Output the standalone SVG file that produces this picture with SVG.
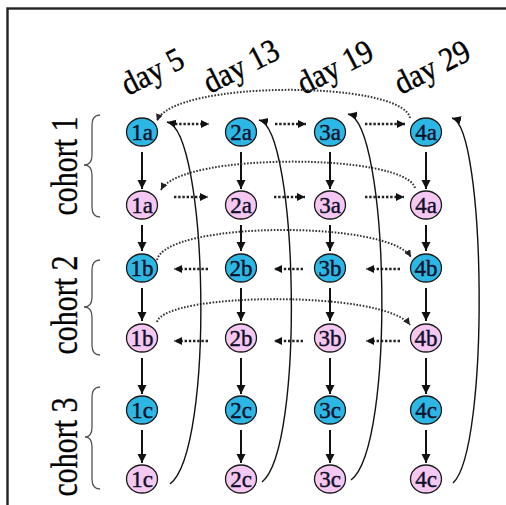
<svg xmlns="http://www.w3.org/2000/svg" width="506" height="505" viewBox="0 0 506 505">
  <style>
    .node-b { fill: #2db7e4; stroke: #1a1a1a; stroke-width: 1.3; }
    .node-p { fill: #f5c8f1; stroke: #1a1a1a; stroke-width: 1.3; }
    .nlabel { font-family: "Liberation Serif", "Times New Roman", serif; font-size: 23px; fill: #10102a; stroke: #10102a; stroke-width: 0.4; text-anchor: middle; }
    .day { font-family: "Liberation Serif", "Times New Roman", serif; font-size: 30px; fill: #000; stroke: #000; stroke-width: 0.35; }
    .cohort { font-family: "Liberation Serif", "Times New Roman", serif; font-size: 30px; fill: #000; stroke: #000; stroke-width: 0.25; text-anchor: middle; }
    .brace { fill: none; stroke: #555; stroke-width: 1.3; }
    .down { stroke: #111; stroke-width: 2; marker-end: url(#headDown); }
    .dots { stroke: #222; stroke-width: 2.6; stroke-dasharray: 2.4 1.8; marker-end: url(#headDots); }
    .arc { fill: none; stroke: #333; stroke-width: 2; stroke-dasharray: 1.6 1.6; marker-end: url(#headArc); }
    .loop { fill: none; stroke: #111; stroke-width: 1.4; marker-end: url(#headLoop); }
  </style>
  <defs>
    <marker id="headDown" markerUnits="userSpaceOnUse" markerWidth="10" markerHeight="10" refX="9" refY="4.5" orient="auto">
      <path d="M0,0 L9,4.5 L0,9 z" fill="#111"/>
    </marker>
    <marker id="headDots" markerUnits="userSpaceOnUse" markerWidth="10" markerHeight="10" refX="8" refY="4" orient="auto">
      <path d="M0,0 L8,4 L0,8 z" fill="#111"/>
    </marker>
    <marker id="headArc" markerUnits="userSpaceOnUse" markerWidth="9" markerHeight="9" refX="7" refY="3.5" orient="auto">
      <path d="M0,0 L7,3.5 L0,7 z" fill="#222"/>
    </marker>
    <marker id="headLoop" markerUnits="userSpaceOnUse" markerWidth="11" markerHeight="11" refX="9" refY="4" orient="auto">
      <path d="M0,0 L9,4 L0,8 z" fill="#111"/>
    </marker>
  </defs>

  <rect width="506" height="505" fill="#fff"/>
  <!-- frame (open to the right and bottom) -->
  <rect x="7.5" y="8.5" width="540" height="540" fill="none" stroke="#222" stroke-width="2.4"/>

  <!-- column headings -->
  <g id="headings">
    <text class="day" transform="translate(128,96) rotate(-27) scale(1,1.1)">day 5</text>
    <text class="day" transform="translate(210,94) rotate(-27) scale(1,1.1)">day 13</text>
    <text class="day" transform="translate(304,95) rotate(-27) scale(1,1.1)">day 19</text>
    <text class="day" transform="translate(401,95) rotate(-27) scale(1,1.1)">day 29</text>
  </g>

  <!-- cohort labels and braces -->
  <g id="cohort1">
    <text class="cohort" transform="translate(77,166) rotate(-90) scale(1,1.25)">cohort 1</text>
    <path class="brace" d="M100,115 Q92,115 92,125 L92,155 Q92,165 84,165 Q92,165 92,175 L92,207 Q92,217 100,217"/>
  </g>
  <g id="cohort2">
    <text class="cohort" transform="translate(77,305) rotate(-90) scale(1,1.25)">cohort 2</text>
    <path class="brace" d="M100,260 Q92,260 92,270 L92,297 Q92,307 84,307 Q92,307 92,317 L92,345 Q92,355 100,355"/>
  </g>
  <g id="cohort3">
    <text class="cohort" transform="translate(77,447) rotate(-90) scale(1,1.25)">cohort 3</text>
    <path class="brace" d="M100,387 Q92,387 92,397 L92,427 Q92,437 85,437 Q92,437 92,447 L92,479 Q92,489 100,489"/>
  </g>

  <!-- connectors -->
  <g id="connectors">
    <!-- vertical steps in each column -->
    <g id="steps">
      <line class="down" x1="142" y1="152" x2="142" y2="189"/>
      <line class="down" x1="142" y1="225" x2="142" y2="251"/>
      <line class="down" x1="142" y1="288" x2="142" y2="321"/>
      <line class="down" x1="142" y1="358" x2="142" y2="394"/>
      <line class="down" x1="142" y1="430" x2="142" y2="463"/>

      <line class="down" x1="241" y1="152" x2="241" y2="189"/>
      <line class="down" x1="241" y1="225" x2="241" y2="251"/>
      <line class="down" x1="241" y1="288" x2="241" y2="321"/>
      <line class="down" x1="241" y1="358" x2="241" y2="394"/>
      <line class="down" x1="241" y1="430" x2="241" y2="463"/>

      <line class="down" x1="330" y1="152" x2="330" y2="189"/>
      <line class="down" x1="330" y1="225" x2="330" y2="251"/>
      <line class="down" x1="330" y1="288" x2="330" y2="321"/>
      <line class="down" x1="330" y1="358" x2="330" y2="394"/>
      <line class="down" x1="330" y1="430" x2="330" y2="463"/>

      <line class="down" x1="426" y1="152" x2="426" y2="189"/>
      <line class="down" x1="426" y1="225" x2="426" y2="251"/>
      <line class="down" x1="426" y1="288" x2="426" y2="321"/>
      <line class="down" x1="426" y1="358" x2="426" y2="394"/>
      <line class="down" x1="426" y1="430" x2="426" y2="463"/>
    </g>

    <!-- dotted arrows along the rows -->
    <g id="row-arrows">
      <line class="dots" x1="175" y1="124" x2="209" y2="124"/>
      <line class="dots" x1="275" y1="124" x2="306" y2="124"/>
      <line class="dots" x1="365" y1="124" x2="405" y2="124"/>

      <line class="dots" x1="174" y1="197" x2="208" y2="197"/>
      <line class="dots" x1="274" y1="197" x2="305" y2="197"/>
      <line class="dots" x1="365" y1="197" x2="404" y2="197"/>

      <line class="dots" x1="208" y1="269" x2="174" y2="269"/>
      <line class="dots" x1="303" y1="269" x2="274" y2="269"/>
      <line class="dots" x1="400" y1="269" x2="366" y2="269"/>

      <line class="dots" x1="208" y1="341" x2="174" y2="341"/>
      <line class="dots" x1="303" y1="341" x2="274" y2="341"/>
      <line class="dots" x1="400" y1="341" x2="366" y2="341"/>
    </g>

    <!-- long dotted arcs across the rows -->
    <g id="arcs">
      <path class="arc" d="M410,118 C402,80 172,80 157,121"/>
      <path class="arc" d="M415,188 C405,153 180,152 161,190"/>
      <path class="arc" d="M157,260 C166,221 388,220 411,257"/>
      <path class="arc" d="M157,322 C165,292 385,290 410,325"/>
    </g>

    <!-- solid loops from the last row back to the top of each column -->
    <g id="loops">
      <path class="loop" d="M170,484 C215,450 208,130 167,122"/>
      <path class="loop" d="M262,482 C305,448 298,128 259,120"/>
      <path class="loop" d="M351,480 C396,446 389,122 348,114"/>
      <path class="loop" d="M453,483 C490,449 486,126 452,118"/>
    </g>
  </g>

  <!-- nodes: blue = first sample, pink = second sample -->
  <g id="n1a-b"><ellipse class="node-b" cx="142" cy="132" rx="15.5" ry="14"/><text class="nlabel" x="142" y="140">1a</text></g>
  <g id="n2a-b"><ellipse class="node-b" cx="241" cy="132" rx="15.5" ry="14"/><text class="nlabel" x="241" y="140">2a</text></g>
  <g id="n3a-b"><ellipse class="node-b" cx="330" cy="132" rx="15.5" ry="14"/><text class="nlabel" x="330" y="140">3a</text></g>
  <g id="n4a-b"><ellipse class="node-b" cx="426" cy="132" rx="15.5" ry="14"/><text class="nlabel" x="426" y="140">4a</text></g>

  <g id="n1a-p"><ellipse class="node-p" cx="142" cy="205" rx="15.5" ry="14"/><text class="nlabel" x="142" y="213">1a</text></g>
  <g id="n2a-p"><ellipse class="node-p" cx="241" cy="205" rx="15.5" ry="14"/><text class="nlabel" x="241" y="213">2a</text></g>
  <g id="n3a-p"><ellipse class="node-p" cx="330" cy="205" rx="15.5" ry="14"/><text class="nlabel" x="330" y="213">3a</text></g>
  <g id="n4a-p"><ellipse class="node-p" cx="426" cy="205" rx="15.5" ry="14"/><text class="nlabel" x="426" y="213">4a</text></g>

  <g id="n1b-b"><ellipse class="node-b" cx="142" cy="268" rx="15.5" ry="14"/><text class="nlabel" x="142" y="276">1b</text></g>
  <g id="n2b-b"><ellipse class="node-b" cx="241" cy="268" rx="15.5" ry="14"/><text class="nlabel" x="241" y="276">2b</text></g>
  <g id="n3b-b"><ellipse class="node-b" cx="330" cy="268" rx="15.5" ry="14"/><text class="nlabel" x="330" y="276">3b</text></g>
  <g id="n4b-b"><ellipse class="node-b" cx="426" cy="268" rx="15.5" ry="14"/><text class="nlabel" x="426" y="276">4b</text></g>

  <g id="n1b-p"><ellipse class="node-p" cx="142" cy="338" rx="15.5" ry="14"/><text class="nlabel" x="142" y="346">1b</text></g>
  <g id="n2b-p"><ellipse class="node-p" cx="241" cy="338" rx="15.5" ry="14"/><text class="nlabel" x="241" y="346">2b</text></g>
  <g id="n3b-p"><ellipse class="node-p" cx="330" cy="338" rx="15.5" ry="14"/><text class="nlabel" x="330" y="346">3b</text></g>
  <g id="n4b-p"><ellipse class="node-p" cx="426" cy="338" rx="15.5" ry="14"/><text class="nlabel" x="426" y="346">4b</text></g>

  <g id="n1c-b"><ellipse class="node-b" cx="142" cy="410" rx="15.5" ry="14"/><text class="nlabel" x="142" y="418">1c</text></g>
  <g id="n2c-b"><ellipse class="node-b" cx="241" cy="410" rx="15.5" ry="14"/><text class="nlabel" x="241" y="418">2c</text></g>
  <g id="n3c-b"><ellipse class="node-b" cx="330" cy="410" rx="15.5" ry="14"/><text class="nlabel" x="330" y="418">3c</text></g>
  <g id="n4c-b"><ellipse class="node-b" cx="426" cy="410" rx="15.5" ry="14"/><text class="nlabel" x="426" y="418">4c</text></g>

  <g id="n1c-p"><ellipse class="node-p" cx="142" cy="479" rx="15.5" ry="14"/><text class="nlabel" x="142" y="487">1c</text></g>
  <g id="n2c-p"><ellipse class="node-p" cx="241" cy="479" rx="15.5" ry="14"/><text class="nlabel" x="241" y="487">2c</text></g>
  <g id="n3c-p"><ellipse class="node-p" cx="330" cy="479" rx="15.5" ry="14"/><text class="nlabel" x="330" y="487">3c</text></g>
  <g id="n4c-p"><ellipse class="node-p" cx="426" cy="479" rx="15.5" ry="14"/><text class="nlabel" x="426" y="487">4c</text></g>
</svg>
